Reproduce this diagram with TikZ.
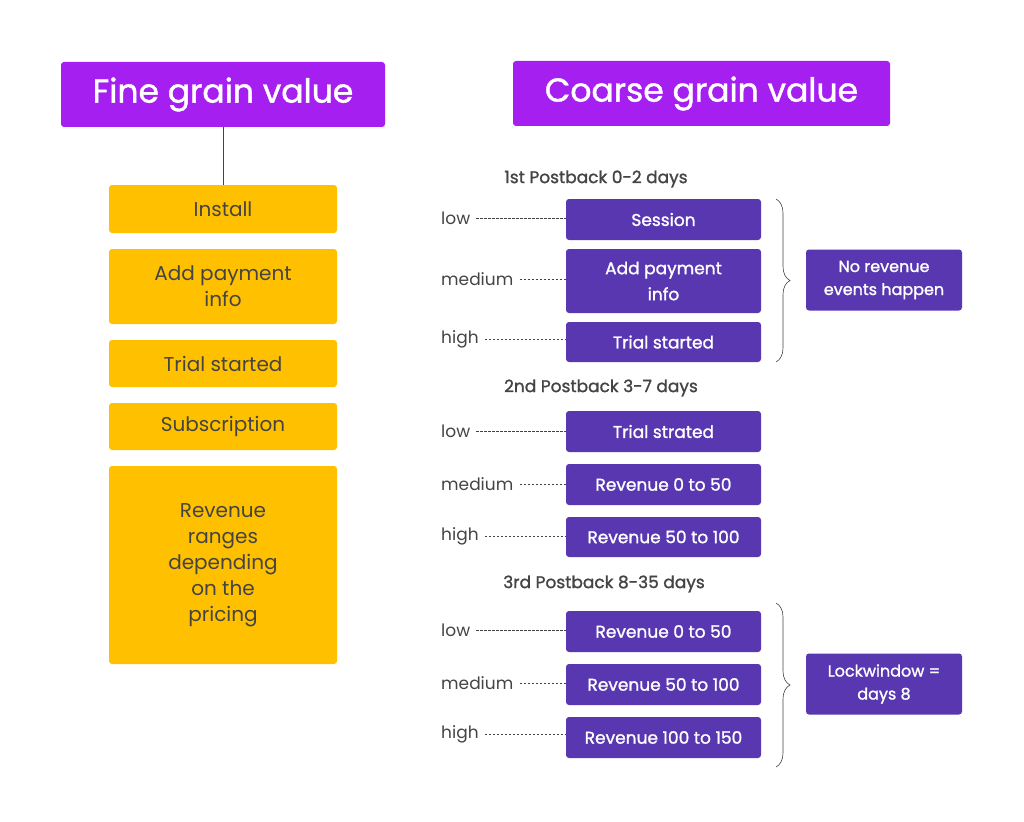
\documentclass[tikz,border=0pt]{standalone}
\usepackage{fontspec}
\setmainfont{Poppins}
\newfontfamily\mediumfont{Poppins}[FakeBold=1.3]
\usetikzlibrary{positioning,decorations.pathreplacing}
\definecolor{violet}{HTML}{A51FF0}
\definecolor{amber}{HTML}{FFC000}
\definecolor{indigo}{HTML}{5837B0}
\definecolor{ink}{HTML}{444444}
\tikzset{
  title/.style={draw=none, fill=violet, rounded corners=3pt, text=white, font=\fontsize{33}{35}\selectfont\mediumfont, inner sep=0pt},
  fine/.style={fill=amber, rounded corners=3pt, text=ink, align=center, font=\fontsize{20}{26}\selectfont, inner sep=0pt, minimum width=228pt},
  coarse/.style={fill=indigo, rounded corners=3pt, text=white, align=center, font=\fontsize{17}{26}\selectfont\mediumfont, inner sep=0pt, minimum width=195pt},
  side/.style={fill=indigo, rounded corners=3pt, text=white, align=center, font=\fontsize{16}{23}\selectfont\mediumfont, inner sep=0pt, minimum width=156pt, minimum height=61pt},
  level/.style={text=ink, font=\fontsize{17}{18}\selectfont, anchor=west, inner sep=0pt},
  head/.style={text=ink, font=\fontsize{17}{18}\selectfont\mediumfont, inner sep=0pt},
  link/.style={ink, dash pattern=on 2.5pt off 1.5pt, thin},
  brace/.style={ink, semithick, decorate, decoration={brace, amplitude=14pt}}
}
\begin{document}
\begin{tikzpicture}[x=1pt, y=-1pt]
  \useasboundingbox (0,0) rectangle (1024,821);

  % Titles
  \node[title, minimum width=324pt, minimum height=65pt] (fine) at (223,94.5) {Fine grain value};
  \node[title, minimum width=377pt, minimum height=65pt] (coarse) at (701.5,93.5) {Coarse grain value};

  % Fine grain list
  \node[fine, minimum height=48pt] (f1) at (223,209) {Install};
  \node[fine, minimum height=75pt] (f2) at (223,286.5) {Add payment\\info};
  \node[fine, minimum height=47pt] (f3) at (223,363.5) {Trial started};
  \node[fine, minimum height=47pt] (f4) at (223,426.5) {Subscription};
  \node[fine, minimum height=198pt] (f5) at (223,565) {Revenue\\ranges\\depending\\on the\\pricing};
  \draw[ink, thin] (fine.south) -- (f1.north);

  % Postback headers
  \node[head] (p1) at (596,179) {1st Postback 0-2 days};
  \node[head] (p2) at (601,388) {2nd Postback 3-7 days};
  \node[head] (p3) at (604,584) {3rd Postback 8-35 days};

  % 1st postback
  \node[coarse, minimum height=41pt] (a1) at (663.5,219.5) {Session};
  \node[coarse, minimum height=64pt] (a2) at (663.5,281) {Add payment\\info};
  \node[coarse, minimum height=40pt] (a3) at (663.5,342) {Trial started};
  \node[level] (l1) at (441,218) {low};
  \node[level] (m1) at (441,279) {medium};
  \node[level] (h1) at (441,339) {high};

  % 2nd postback
  \node[coarse, minimum height=41pt] (b1) at (663.5,431.5) {Trial strated};
  \node[coarse, minimum height=41pt] (b2) at (663.5,484.5) {Revenue 0 to 50};
  \node[coarse, minimum height=40pt] (b3) at (663.5,537) {Revenue 50 to 100};
  \node[level] (l2) at (441,431) {low};
  \node[level] (m2) at (441,484) {medium};
  \node[level] (h2) at (441,536) {high};

  % 3rd postback
  \node[coarse, minimum height=41pt] (c1) at (663.5,631.5) {Revenue 0 to 50};
  \node[coarse, minimum height=41pt] (c2) at (663.5,684.5) {Revenue 50 to 100};
  \node[coarse, minimum height=41pt] (c3) at (663.5,737.5) {Revenue 100 to 150};
  \node[level] (l3) at (441,630) {low};
  \node[level] (m3) at (441,683) {medium};
  \node[level] (h3) at (441,734) {high};

  % Dashed links
  \foreach \lab/\tgt in {l1/a1, m1/a2, h1/a3, l2/b1, m2/b2, h2/b3, l3/c1, m3/c2, h3/c3}
    \draw[link] ([xshift=6pt]\lab.east) -- (\lab.east -| \tgt.west);

  % Braces and notes
  \coordinate (t1) at (776,199);
  \coordinate (u1) at (776,362);
  \coordinate (t3) at (776,603);
  \coordinate (u3) at (776,767);
  \draw[brace] (t1) -- (u1);
  \draw[brace] (t3) -- (u3);
  \node[side] (n1) at (884,280) {No revenue\\events happen};
  \node[side] (n3) at (884,684) {Lockwindow =\\days 8};
\end{tikzpicture}
\end{document}
